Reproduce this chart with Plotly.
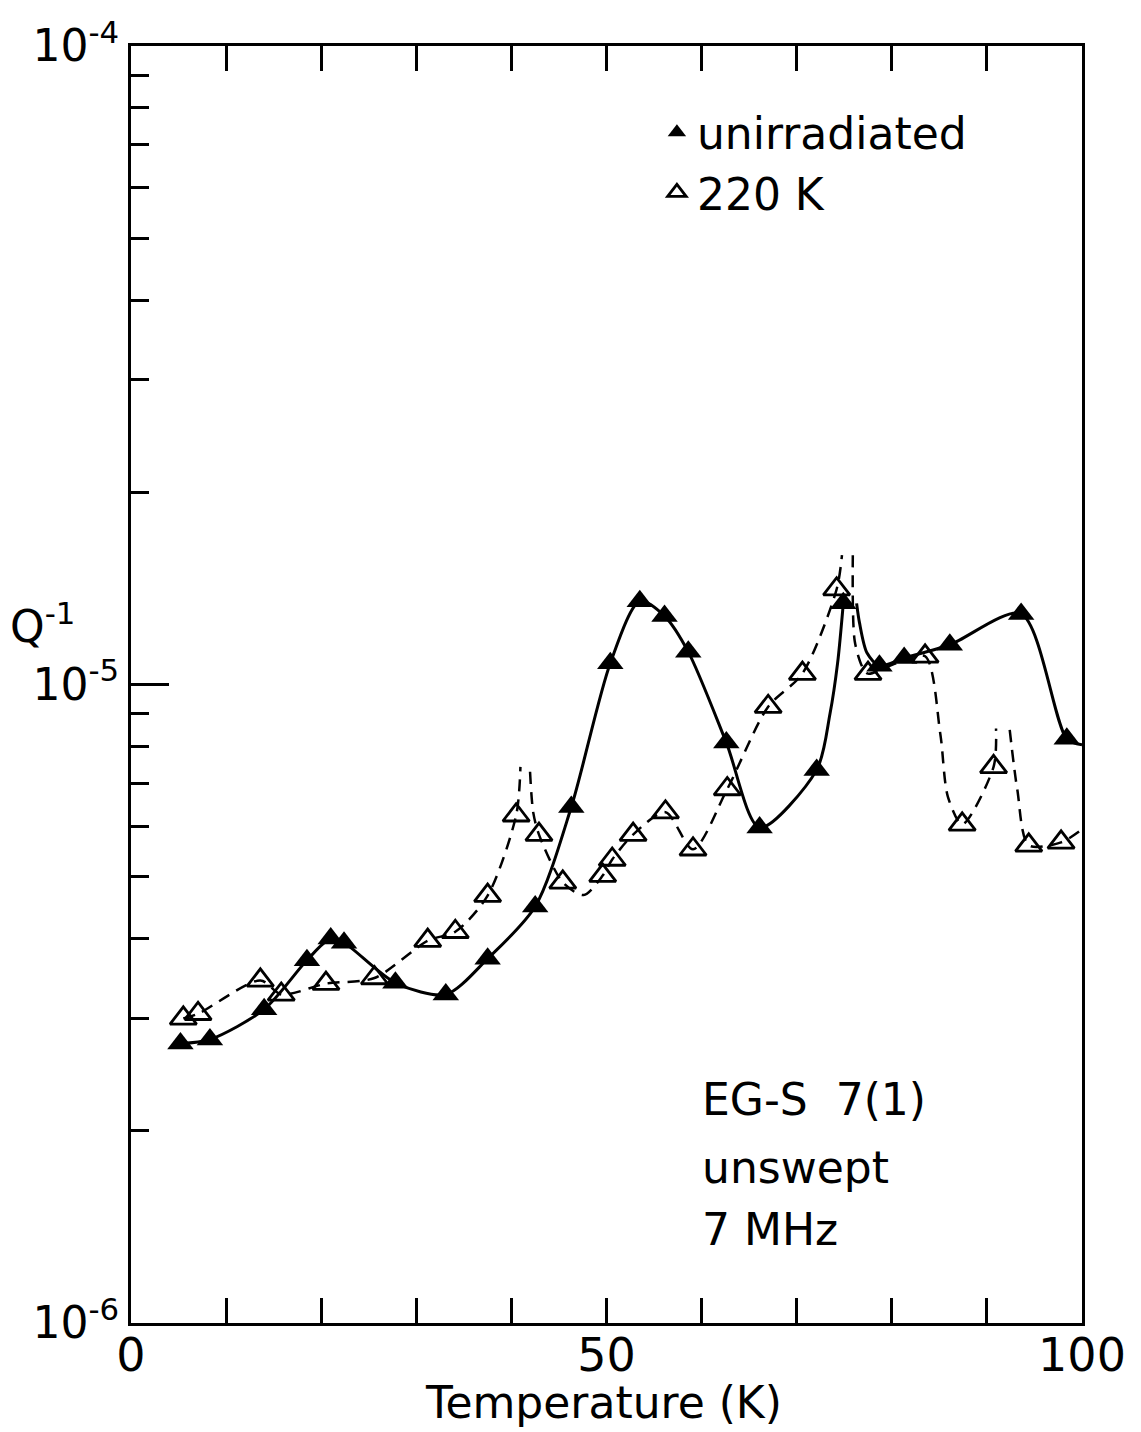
import plotly.graph_objects as go

# --- measured internal friction, unirradiated sample (filled triangles) ---
T_unirr = [5.2, 8.3, 14.0, 18.5, 21.0, 22.4, 27.8, 33.1, 37.5, 42.5, 46.3, 50.4,
           53.5, 56.1, 58.6, 62.6, 66.1, 72.1, 74.9, 78.7, 81.3, 86.1, 93.6, 98.4]
Q_unirr = [2.74e-6, 2.78e-6, 3.10e-6, 3.70e-6, 4.00e-6, 3.94e-6, 3.41e-6, 3.27e-6,
           3.72e-6, 4.49e-6, 6.43e-6, 1.08e-5, 1.35e-5, 1.28e-5, 1.125e-5, 8.11e-6,
           5.97e-6, 7.35e-6, 1.34e-5, 1.07e-5, 1.10e-5, 1.154e-5, 1.29e-5, 8.22e-6]

# --- measured internal friction after 220 K irradiation (open triangles) ---
T_220 = [5.5, 7.05, 13.6, 15.8, 20.5, 25.6, 31.2, 34.1, 37.5, 40.5, 42.9, 45.4,
         49.6, 50.6, 52.8, 56.2, 59.1, 62.7, 67.0, 70.6, 74.2, 77.5, 83.5, 87.4,
         90.7, 94.4, 97.8]
Q_220 = [3.00e-6, 3.05e-6, 3.44e-6, 3.27e-6, 3.40e-6, 3.47e-6, 3.97e-6, 4.10e-6,
         4.67e-6, 6.24e-6, 5.82e-6, 4.90e-6, 5.02e-6, 5.32e-6, 5.82e-6, 6.31e-6,
         5.52e-6, 6.86e-6, 9.23e-6, 1.04e-5, 1.41e-5, 1.04e-5, 1.107e-5, 6.04e-6,
         7.43e-6, 5.60e-6, 5.66e-6]

# --- hand-drawn guide curves (None separates the branches around each resonance) ---
T_unirr_curve = [5.2, 8.3, 14.0, 18.5, 21.0, 22.4, 27.8, 33.1, 37.5, 42.5, 46.3, 50.4,
                 53.5, 56.1, 58.6, 62.6, 66.1, 72.1, 73.5, 74.3, 74.9, None,
                 76.3, 76.6, 77.4, 78.7, 81.3, 86.1, 93.6, 98.4, 100.0]
Q_unirr_curve = [2.74e-6, 2.78e-6, 3.10e-6, 3.70e-6, 4.00e-6, 3.94e-6, 3.41e-6, 3.27e-6,
                 3.72e-6, 4.49e-6, 6.43e-6, 1.08e-5, 1.35e-5, 1.28e-5, 1.125e-5, 8.11e-6,
                 5.97e-6, 7.35e-6, 9.0e-6, 1.08e-5, 1.34e-5, None,
                 1.34e-5, 1.25e-5, 1.12e-5, 1.07e-5, 1.10e-5, 1.154e-5, 1.29e-5, 8.22e-6,
                 8.05e-6]

T_220_curve = [5.5, 7.05, 13.6, 15.8, 20.5, 25.6, 31.2, 34.1, 37.5, 40.5, 40.95, None,
               41.96, 42.3, 42.9, 45.4, 47.6, 49.6, 50.6, 52.8, 56.2, 59.1, 62.7, 67.0,
               70.6, 74.2, 74.76, None,
               75.9, 76.1, 76.9, 77.5, 80.5, 83.5, 85.1, 85.9, 87.4, 90.7, 90.96, None,
               92.4, 93.2, 94.4, 97.8, 100.0]
Q_220_curve = [3.00e-6, 3.05e-6, 3.44e-6, 3.27e-6, 3.40e-6, 3.47e-6, 3.97e-6, 4.10e-6,
               4.67e-6, 6.24e-6, 7.43e-6, None,
               7.3e-6, 6.3e-6, 5.82e-6, 4.90e-6, 4.68e-6, 5.02e-6, 5.32e-6, 5.82e-6,
               6.31e-6, 5.52e-6, 6.86e-6, 9.23e-6, 1.04e-5, 1.41e-5, 1.594e-5, None,
               1.594e-5, 1.17e-5, 1.066e-5, 1.04e-5, 1.08e-5, 1.107e-5, 8.37e-6, 6.67e-6,
               6.04e-6, 7.43e-6, 8.53e-6, None,
               8.49e-6, 6.84e-6, 5.60e-6, 5.66e-6, 5.93e-6]

# axis ticks and labels
x_major = [0, 50, 100]
x_major_text = ["0", "50", "100"]
x_minor = [10, 20, 30, 40, 60, 70, 80, 90]
y_major = [1e-6, 1e-5, 1e-4]
y_major_text = ["10<sup>-6</sup>", "10<sup>-5</sup>", "10<sup>-4</sup>"]
y_minor = [m * 10.0 ** e for e in (-6, -5) for m in range(2, 10)]

# sample description, one line per entry
sample_lines = ["EG-S\u00a0\u00a07(1)", "unswept", "7\u00a0MHz"]
sample_line_y = [0.175, 0.122, 0.073]

FONT = "DejaVu Sans"

fig = go.Figure()

fig.add_trace(go.Scatter(
    x=T_unirr_curve, y=Q_unirr_curve, mode="lines", showlegend=False,
    line=dict(color="black", width=3, shape="spline", smoothing=0.8),
    connectgaps=False, hoverinfo="skip"))
fig.add_trace(go.Scatter(
    x=T_220_curve, y=Q_220_curve, mode="lines", showlegend=False,
    line=dict(color="black", width=2.5, dash="12px,8px", shape="spline", smoothing=0.8),
    connectgaps=False, hoverinfo="skip"))

fig.add_trace(go.Scatter(
    x=T_unirr, y=Q_unirr, mode="markers", name="unirradiated",
    marker=dict(symbol="triangle-up", size=23, color="black")))
fig.add_trace(go.Scatter(
    x=T_220, y=Q_220, mode="markers", name="220 K",
    marker=dict(symbol="triangle-up-open", size=23, color="black",
                line=dict(width=2.8, color="black"))))

# carrier for the minor-tick axis
fig.add_trace(go.Scatter(x=[None], y=[None], yaxis="y2", showlegend=False,
                         hoverinfo="skip"))

annotations = [
    dict(text="Q<sup>-1</sup>", xref="paper", yref="paper", x=-0.093, y=0.548,
         showarrow=False, font=dict(size=44), xanchor="center", yanchor="middle"),
    dict(text="Temperature (K)", xref="paper", yref="paper", x=0.497, y=-0.0626,
         showarrow=False, font=dict(size=44), xanchor="center", yanchor="middle"),
]
for line_text, line_y in zip(sample_lines, sample_line_y):
    annotations.append(dict(text=line_text, xref="paper", yref="paper", x=0.598,
                            y=line_y, xanchor="left", yanchor="middle",
                            showarrow=False, font=dict(size=44)))

fig.update_layout(
    width=1141, height=1432,
    margin=dict(l=131, r=59, t=46, b=109, autoexpand=False),
    paper_bgcolor="white", plot_bgcolor="white",
    font=dict(family=FONT, color="black", size=44),
    showlegend=True,
    legend=dict(x=0.553, y=0.96, xanchor="left", yanchor="top",
                font=dict(family=FONT, size=44), bgcolor="rgba(0,0,0,0)",
                itemwidth=30, tracegroupgap=0),
    xaxis=dict(range=[0, 100], tickmode="array", tickvals=x_major,
               ticktext=x_major_text, ticks="inside", ticklen=25, tickwidth=2.5,
               tickcolor="black", showline=True, linewidth=3, linecolor="black",
               mirror="ticks", showgrid=False, zeroline=False, automargin=False,
               minor=dict(tickmode="array", tickvals=x_minor, ticks="inside",
                          ticklen=25, tickwidth=2.5, tickcolor="black",
                          showgrid=False),
               tickfont=dict(size=46), ticklabelstandoff=-10),
    yaxis=dict(type="log", range=[-6, -4], tickmode="array", tickvals=y_major,
               ticktext=y_major_text, ticks="inside", ticklen=38, tickwidth=3,
               tickcolor="black", showline=True, linewidth=3, linecolor="black",
               mirror=True, showgrid=False, zeroline=False, automargin=False,
               tickfont=dict(size=44)),
    yaxis2=dict(type="log", range=[-6, -4], overlaying="y", side="left",
                anchor="x", tickmode="array", tickvals=y_minor, ticks="inside",
                ticklen=18, tickwidth=3, tickcolor="black", showticklabels=False,
                showline=False, showgrid=False, zeroline=False, automargin=False),
    annotations=annotations,
)

fig.write_html("out.html")
